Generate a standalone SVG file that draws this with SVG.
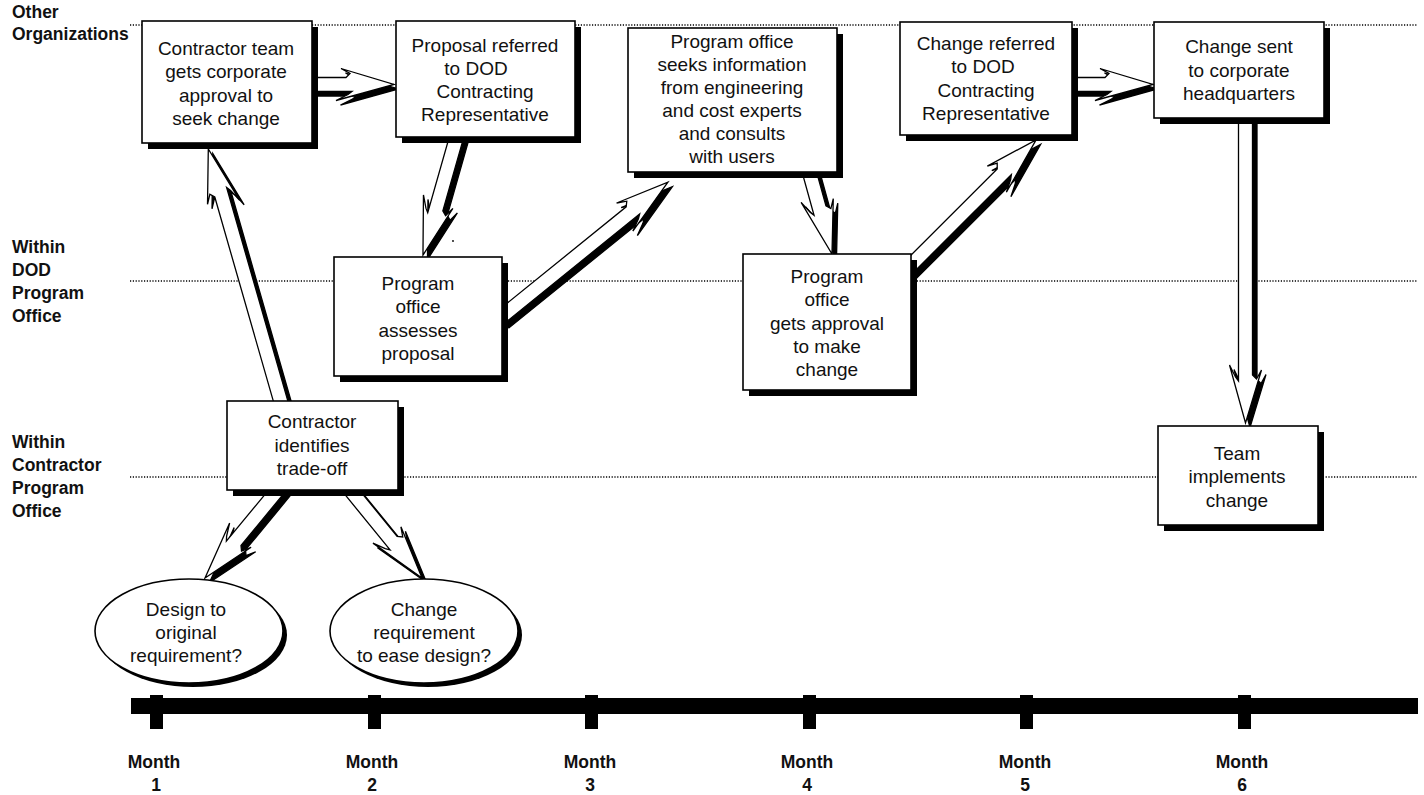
<svg xmlns="http://www.w3.org/2000/svg" xmlns:xlink="http://www.w3.org/1999/xlink" width="1424" height="795" viewBox="0 0 1424 795">
  <style>
    .bg { fill: #ffffff; }
    .lane { stroke: #000; stroke-width: 1.3; stroke-dasharray: 1.2 1.6; fill: none; }
    .box { fill: #fff; stroke: #000; stroke-width: 1.6; }
    .shadow { fill: #000; }
    .abody { fill: #fff; stroke: #000; stroke-width: 1.3; stroke-linejoin: miter; }
    .ash { fill: #000; stroke: #000; stroke-width: 1.3; }
    .t { font-family: "Liberation Sans", Arial, Helvetica, sans-serif; font-size: 19px; text-anchor: middle; fill: #111; }
    .lbl { font-family: "Liberation Sans", Arial, Helvetica, sans-serif; font-size: 17.5px; font-weight: bold; fill: #111; }
    .mon { font-family: "Liberation Sans", Arial, Helvetica, sans-serif; font-size: 17.5px; font-weight: bold; text-anchor: middle; fill: #111; }
  </style>
  <defs>
    <!-- block arrows: local x runs along the arrow, tip at x = L -->
    <polygon id="a1" transform="translate(308,84.5)" points="0,-7 38,-7 42,-11 33,-16 86,0 28,16 40,10 44,7 0,7"/>
    <polygon id="a2" transform="translate(458,132) rotate(105.88)" points="0,-7 80,-7 84,-11 75,-16 128,0 70,16 82,10 86,7 0,7"/>
    <polygon id="a3" transform="translate(500,318) rotate(-38.99)" points="0,-7 168,-7 172,-11 163,-16 216,0 158,16 170,10 174,7 0,7"/>
    <polygon id="a4" transform="translate(806,160) rotate(74.54)" points="0,-7 49.5,-7 53.5,-11 44.5,-16 97.5,0 39.5,16 51.5,10 55.5,7 0,7"/>
    <polygon id="a5" transform="translate(906,270) rotate(-45)" points="0,-7 136,-7 140,-11 131,-16 184,0 126,16 138,10 142,7 0,7"/>
    <polygon id="a6" transform="translate(1068,84.5)" points="0,-7 37,-7 41,-11 32,-16 85,0 27,16 39,10 43,7 0,7"/>
    <polygon id="a7" transform="translate(1245.5,112) rotate(90)" points="0,-7 263,-7 267,-11 258,-16 311,0 253,16 265,10 269,7 0,7"/>
    <polygon id="a8" transform="translate(282,406) rotate(-106)" points="0,-7 219.4,-7 223.4,-11 214.4,-16 267.4,0 209.4,16 221.4,10 225.4,7 0,7"/>
    <polygon id="a9" transform="translate(281,486) rotate(129.56)" points="0,-7 71.3,-7 75.3,-11 66.3,-16 119.3,0 61.3,16 73.3,10 77.3,7 0,7"/>
    <polygon id="a10" transform="translate(347,486) rotate(50.8)" points="0,-7 70.7,-7 74.7,-11 65.7,-16 118.7,0 60.7,16 72.7,10 76.7,7 0,7"/>
  </defs>

  <rect class="bg" x="0" y="0" width="1424" height="795"/>

  <!-- swimlane labels and dotted dividers -->
  <g id="lanes">
    <line class="lane" x1="130" y1="25" x2="1417" y2="25"/>
    <line class="lane" x1="130" y1="281" x2="1417" y2="281"/>
    <line class="lane" x1="130" y1="477" x2="1417" y2="477"/>
    <text class="lbl" x="12"><tspan x="12" y="18">Other</tspan><tspan x="12" y="40">Organizations</tspan></text>
    <text class="lbl" x="12"><tspan x="12" y="253">Within</tspan><tspan x="12" y="276">DOD</tspan><tspan x="12" y="299">Program</tspan><tspan x="12" y="322">Office</tspan></text>
    <text class="lbl" x="12"><tspan x="12" y="448">Within</tspan><tspan x="12" y="471">Contractor</tspan><tspan x="12" y="494">Program</tspan><tspan x="12" y="517">Office</tspan></text>
  </g>

  <!-- block arrows with offset shadows -->
  <g id="connectors">
    <use xlink:href="#a1" class="ash" transform="translate(4.5,4.5)"/>
    <use xlink:href="#a1" class="abody"/>
    <use xlink:href="#a2" class="ash" transform="translate(4.5,4.5)"/>
    <use xlink:href="#a2" class="abody"/>
    <use xlink:href="#a3" class="ash" transform="translate(4.5,4.5)"/>
    <use xlink:href="#a3" class="abody"/>
    <use xlink:href="#a4" class="ash" transform="translate(4.5,4.5)"/>
    <use xlink:href="#a4" class="abody"/>
    <use xlink:href="#a5" class="ash" transform="translate(4.5,4.5)"/>
    <use xlink:href="#a5" class="abody"/>
    <use xlink:href="#a6" class="ash" transform="translate(4.5,4.5)"/>
    <use xlink:href="#a6" class="abody"/>
    <use xlink:href="#a7" class="ash" transform="translate(4.5,4.5)"/>
    <use xlink:href="#a7" class="abody"/>
    <use xlink:href="#a8" class="ash" transform="translate(4.5,4.5)"/>
    <use xlink:href="#a8" class="abody"/>
    <use xlink:href="#a9" class="ash" transform="translate(4.5,4.5)"/>
    <use xlink:href="#a9" class="abody"/>
    <use xlink:href="#a10" class="ash" transform="translate(4.5,4.5)"/>
    <use xlink:href="#a10" class="abody"/>
  </g>

  <!-- process boxes -->
  <g id="n-corporate-approval">
    <rect class="shadow" x="148" y="27" width="170" height="122"/>
    <rect class="box" x="142" y="21" width="170" height="122"/>
    <text class="t"><tspan x="226" y="55">Contractor team</tspan><tspan x="226" y="78">gets corporate</tspan><tspan x="226" y="101.5">approval to</tspan><tspan x="226" y="125">seek change</tspan></text>
  </g>

  <g id="n-proposal-referred">
    <rect class="shadow" x="402" y="27" width="179" height="116"/>
    <rect class="box" x="396" y="21" width="179" height="116"/>
    <text class="t"><tspan x="485" y="52">Proposal referred</tspan><tspan x="476" y="75">to DOD</tspan><tspan x="485" y="98">Contracting</tspan><tspan x="485" y="121">Representative</tspan></text>
  </g>

  <g id="n-seeks-information">
    <rect class="shadow" x="634" y="34" width="209" height="144"/>
    <rect class="box" x="628" y="28" width="209" height="144"/>
    <text class="t"><tspan x="732" y="48">Program office</tspan><tspan x="732" y="71">seeks information</tspan><tspan x="732" y="94">from engineering</tspan><tspan x="732" y="117">and cost experts</tspan><tspan x="732" y="140">and consults</tspan><tspan x="732" y="163">with users</tspan></text>
  </g>

  <g id="n-change-referred">
    <rect class="shadow" x="906" y="28" width="172" height="113"/>
    <rect class="box" x="900" y="22" width="172" height="113"/>
    <text class="t"><tspan x="986" y="50">Change referred</tspan><tspan x="983" y="73">to DOD</tspan><tspan x="986" y="97">Contracting</tspan><tspan x="986" y="120">Representative</tspan></text>
  </g>

  <g id="n-sent-to-headquarters">
    <rect class="shadow" x="1160" y="28" width="170" height="96"/>
    <rect class="box" x="1154" y="22" width="170" height="96"/>
    <text class="t"><tspan x="1239" y="53">Change sent</tspan><tspan x="1239" y="77">to corporate</tspan><tspan x="1239" y="100">headquarters</tspan></text>
  </g>

  <g id="n-assesses-proposal">
    <rect class="shadow" x="340" y="263" width="168" height="119"/>
    <rect class="box" x="334" y="257" width="168" height="119"/>
    <text class="t"><tspan x="418" y="290">Program</tspan><tspan x="418" y="313">office</tspan><tspan x="418" y="337">assesses</tspan><tspan x="418" y="360">proposal</tspan></text>
  </g>

  <g id="n-gets-approval">
    <rect class="shadow" x="749" y="260" width="168" height="136"/>
    <rect class="box" x="743" y="254" width="168" height="136"/>
    <text class="t"><tspan x="827" y="283">Program</tspan><tspan x="827" y="306">office</tspan><tspan x="827" y="330">gets approval</tspan><tspan x="827" y="353">to make</tspan><tspan x="827" y="376">change</tspan></text>
  </g>

  <g id="n-identifies-tradeoff">
    <rect class="shadow" x="233" y="407" width="171" height="89"/>
    <rect class="box" x="227" y="401" width="171" height="89"/>
    <text class="t"><tspan x="312" y="428">Contractor</tspan><tspan x="312" y="452">identifies</tspan><tspan x="312" y="475">trade-off</tspan></text>
  </g>

  <g id="n-implements-change">
    <rect class="shadow" x="1164" y="432" width="160" height="99"/>
    <rect class="box" x="1158" y="426" width="160" height="99"/>
    <text class="t"><tspan x="1237" y="460">Team</tspan><tspan x="1237" y="483">implements</tspan><tspan x="1237" y="507">change</tspan></text>
  </g>

  <!-- decision ellipses -->
  <g id="n-design-original">
    <ellipse class="shadow" cx="193" cy="635" rx="94" ry="52"/>
    <ellipse class="box" cx="189" cy="631" rx="94" ry="52"/>
    <text class="t"><tspan x="186" y="616">Design to</tspan><tspan x="186" y="639">original</tspan><tspan x="186" y="662">requirement?</tspan></text>
  </g>

  <g id="n-change-requirement">
    <ellipse class="shadow" cx="428" cy="635" rx="94" ry="52"/>
    <ellipse class="box" cx="424" cy="631" rx="94" ry="52"/>
    <text class="t"><tspan x="424" y="616">Change</tspan><tspan x="424" y="639">requirement</tspan><tspan x="424" y="662">to ease design?</tspan></text>
  </g>

  <!-- stray mark -->
  <circle cx="453" cy="241" r="0.9" fill="#000"/>

  <!-- time axis -->
  <g id="timeline">
    <rect x="131" y="698" width="1287" height="16" fill="#000"/>
    <rect x="150" y="695" width="13" height="34" fill="#000"/>
    <rect x="368" y="695" width="13" height="34" fill="#000"/>
    <rect x="585" y="695" width="13" height="34" fill="#000"/>
    <rect x="803" y="695" width="13" height="34" fill="#000"/>
    <rect x="1020" y="695" width="13" height="34" fill="#000"/>
    <rect x="1238" y="695" width="13" height="34" fill="#000"/>
    <text class="mon"><tspan x="154" y="768">Month</tspan><tspan x="156" y="791">1</tspan></text>
    <text class="mon"><tspan x="372" y="768">Month</tspan><tspan x="372" y="791">2</tspan></text>
    <text class="mon"><tspan x="590" y="768">Month</tspan><tspan x="590" y="791">3</tspan></text>
    <text class="mon"><tspan x="807" y="768">Month</tspan><tspan x="807" y="791">4</tspan></text>
    <text class="mon"><tspan x="1025" y="768">Month</tspan><tspan x="1025" y="791">5</tspan></text>
    <text class="mon"><tspan x="1242" y="768">Month</tspan><tspan x="1242" y="791">6</tspan></text>
  </g>
</svg>
